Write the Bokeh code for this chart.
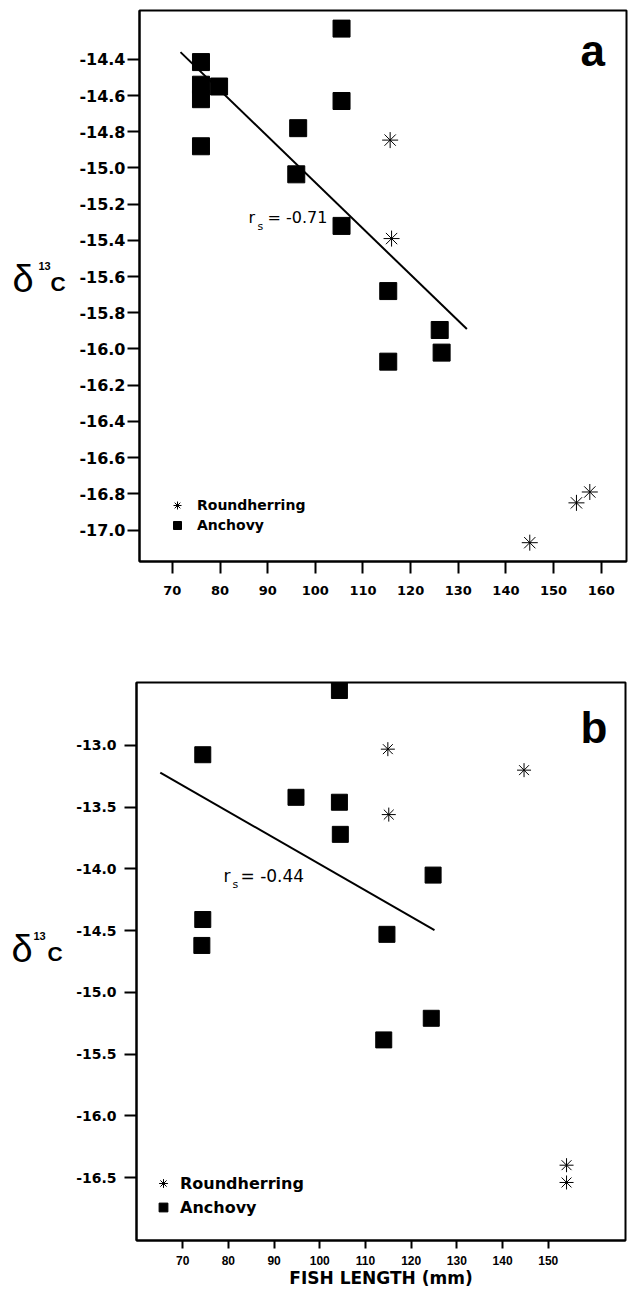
import math
from bokeh.plotting import figure
from bokeh.layouts import column, row
from bokeh.models import Range1d, FixedTicker, Label, Legend, LegendItem, CustomJSTickFormatter
from bokeh.embed import file_html
from bokeh.resources import INLINE

# ---------------- Panel a ----------------
a_anchovy_len = [76, 76, 76, 79.8, 76, 105.5, 105.5, 96.4, 96.0, 105.5, 115.3, 115.3, 126.1, 126.5]
a_anchovy_d13c = [-14.415, -14.54, -14.62, -14.55, -14.88, -14.23, -14.63, -14.78, -15.035,
                  -15.32, -15.68, -16.07, -15.895, -16.02]
a_round_len = [115.7, 116.0, 145.0, 154.8, 157.6]
a_round_d13c = [-14.846, -15.39, -17.07, -16.85, -16.79]
a_fit_len = [71.7, 131.8]
a_fit_d13c = [-14.36, -15.89]
a_rs = "= -0.71"
a_yticks = [-14.4, -14.6, -14.8, -15.0, -15.2, -15.4, -15.6, -15.8, -16.0,
            -16.2, -16.4, -16.6, -16.8, -17.0]
a_xticks = [70, 80, 90, 100, 110, 120, 130, 140, 150, 160]

# ---------------- Panel b ----------------
b_anchovy_len = [104.3, 74.4, 94.8, 104.3, 104.5, 124.8, 74.4, 74.2, 114.7, 114.0, 124.4]
b_anchovy_d13c = [-12.555, -13.075, -13.42, -13.46, -13.72, -14.05, -14.41, -14.62, -14.53,
                  -15.385, -15.21]
b_round_len = [114.9, 115.1, 144.7, 154.0, 154.0]
b_round_d13c = [-13.03, -13.56, -13.2, -16.40, -16.54]
b_fit_len = [65.1, 125.1]
b_fit_d13c = [-13.22, -14.495]
b_rs = "= -0.44"
b_yticks = [-13.0, -13.5, -14.0, -14.5, -15.0, -15.5, -16.0, -16.5]
b_xticks = [70, 80, 90, 100, 110, 120, 130, 140, 150]

series_names = ["Roundherring", "Anchovy"]
x_title = "FISH LENGTH (mm)"
y_title = ["δ", "13", "C"]

LAB_W = 70


def lab(p, txt, x, y, size, font="Liberation Sans", style="normal"):
    p.add_layout(Label(x=x, y=y, x_units="screen", y_units="screen", text=txt,
                       text_font=font, text_font_style=style, text_font_size=size,
                       text_color="black", text_baseline="alphabetic"))


def ylabel_fig(height, pos):
    f = figure(width=LAB_W, height=height, x_range=Range1d(0, 1), y_range=Range1d(0, 1),
               output_backend="svg", toolbar_location=None, min_border=0,
               x_axis_location=None, y_axis_location=None)
    f.grid.visible = False
    f.outline_line_color = None
    lab(f, y_title[0], pos[0][0], pos[0][1], "38px")
    lab(f, y_title[1], pos[1][0], pos[1][1], "11px", style="bold")
    lab(f, y_title[2], pos[2][0], pos[2][1], "21px", style="bold")
    return f


def panel(letter, xr, yr, xticks, yticks, an_x, an_y, rh_x, rh_y, fit_x, fit_y, rs,
          height, borders, sq_size, ast_size, ytick_size, xtick_size, xtick_font,
          tick_x_out, ylab_standoff, xlab_standoff, leg, labels, xlabel=None):
    bt, bb, bl, br = borders
    p = figure(width=628 - LAB_W, height=height, x_range=Range1d(*xr), y_range=Range1d(*yr),
               output_backend="svg", toolbar_location=None,
               min_border_top=bt, min_border_bottom=bb, min_border_left=bl - LAB_W,
               min_border_right=br, background_fill_color="white",
               border_fill_color="white")
    p.grid.visible = False
    p.outline_line_color = "black"
    p.outline_line_width = 2
    for ax in (p.xaxis, p.yaxis):
        ax.axis_line_width = 2
        ax.axis_line_color = "black"
        ax.major_tick_line_width = 2
        ax.major_tick_line_color = "black"
        ax.major_tick_in = 0
        ax.minor_tick_line_color = None
        ax.major_label_text_font = "DejaVu Sans"
        ax.major_label_text_font_style = "bold"
        ax.major_label_text_color = "black"
    p.yaxis.ticker = FixedTicker(ticks=yticks)
    p.xaxis.ticker = FixedTicker(ticks=xticks)
    p.yaxis.formatter = CustomJSTickFormatter(code="return tick.toFixed(1);")
    p.xaxis.formatter = CustomJSTickFormatter(code="return tick.toFixed(0);")
    p.yaxis.major_tick_out = 12
    p.xaxis.major_tick_out = tick_x_out
    p.yaxis.major_label_text_font_size = ytick_size
    p.xaxis.major_label_text_font_size = xtick_size
    p.xaxis.major_label_text_font = xtick_font
    p.yaxis.major_label_standoff = ylab_standoff
    p.xaxis.major_label_standoff = xlab_standoff
    if xlabel:
        p.xaxis.axis_label = xlabel
        p.xaxis.axis_label_text_font = "DejaVu Sans"
        p.xaxis.axis_label_text_font_style = "bold"
        p.xaxis.axis_label_text_font_size = "17px"
        p.xaxis.axis_label_text_color = "black"
        p.xaxis.axis_label_standoff = 0

    p.line(fit_x, fit_y, line_color="black", line_width=2)
    r_an = p.scatter(an_x, an_y, marker="square", size=sq_size, fill_color="black",
                     line_color="black")
    r_rh = p.scatter(rh_x, rh_y, marker="asterisk", size=ast_size, angle=math.pi / 2,
                     line_color="black", line_width=1)

    lx, ly, gw, gh, stand, lfs = leg
    legend = Legend(items=[LegendItem(label=series_names[0], renderers=[r_rh]),
                           LegendItem(label=series_names[1], renderers=[r_an])],
                    location=(lx, ly), padding=0, margin=0, spacing=0,
                    glyph_width=gw, glyph_height=gh, label_height=gh,
                    label_standoff=stand, border_line_color=None,
                    background_fill_alpha=0,
                    label_text_font="DejaVu Sans", label_text_font_style="bold",
                    label_text_font_size=lfs, label_text_color="black")
    p.add_layout(legend)

    L = labels
    lab(p, letter, L["letter"][0], L["letter"][1], "44px", style="bold")
    lab(p, "r", L["r"][0], L["r"][1], L["rsize"], font="DejaVu Sans")
    lab(p, "s", L["s"][0], L["s"][1], "11px", font="DejaVu Sans")
    lab(p, rs, L["rs"][0], L["rs"][1], L["rsize"], font="DejaVu Sans")
    return p


pa = panel("a", (63.1, 165.3), (-17.174, -14.13), a_xticks, a_yticks,
           a_anchovy_len, a_anchovy_d13c, a_round_len, a_round_d13c, a_fit_len, a_fit_d13c,
           a_rs, height=640, borders=(10, 79, 139, 2), sq_size=17, ast_size=16,
           ytick_size="16px", xtick_size="13px", xtick_font="DejaVu Sans",
           tick_x_out=12, ylab_standoff=2, xlab_standoff=12,
           leg=(27, 26, 22, 20, 9, "14px"),
           labels={"letter": (441, 511), "r": (109, 344), "s": (118, 335),
                   "rs": (128, 344), "rsize": "16px"})
# y-title positions are relative to the (row-aligned) frame's bottom-left corner
la = ylabel_fig(640, [(12, 283), (38, 296), (50, 278)])

pb = panel("b", (59.9, 166.9), (-17.01, -12.49), b_xticks, b_yticks,
           b_anchovy_len, b_anchovy_d13c, b_round_len, b_round_d13c, b_fit_len, b_fit_d13c,
           b_rs, height=651, borders=(42, 51, 136, 3), sq_size=16, ast_size=14,
           ytick_size="14px", xtick_size="12px", xtick_font="Liberation Sans",
           tick_x_out=8, ylab_standoff=8, xlab_standoff=7,
           leg=(16, 21, 22, 24, 6, "16px"),
           labels={"letter": (444, 513), "r": (87, 365), "s": (96, 356),
                   "rs": (104, 365), "rsize": "17px"},
           xlabel=x_title)
lb = ylabel_fig(651, [(11, 292), (33, 305), (47, 287)])

layout = column(row(la, pa, spacing=0), row(lb, pb, spacing=0), spacing=0)
open("out.html", "w").write(file_html(layout, INLINE))
